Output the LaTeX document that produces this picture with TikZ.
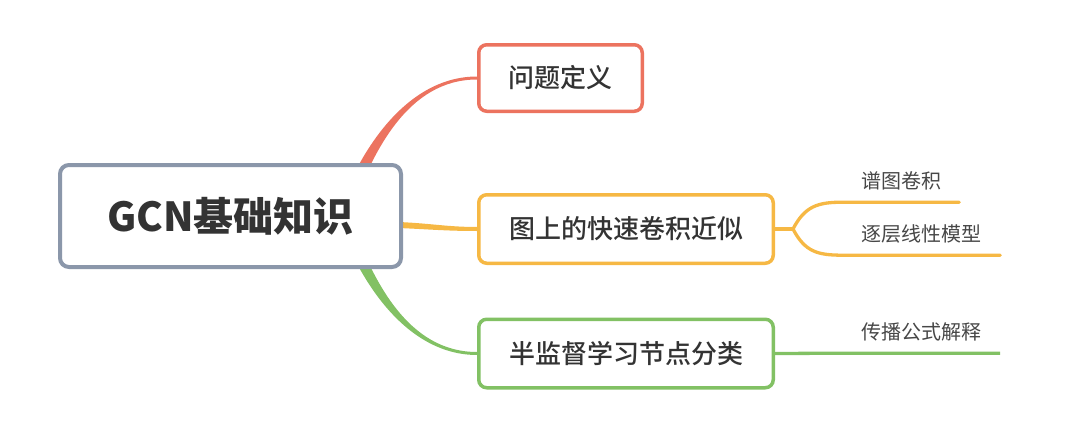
\documentclass[tikz,border=0pt]{standalone}
\usepackage{fontspec}
\newfontfamily\cjk{Noto Sans CJK SC}
\newfontfamily\cjkmed{Noto Sans CJK SC Medium}
\usetikzlibrary{calc,backgrounds}

\definecolor{rootgray}{HTML}{8B97AA}
\definecolor{topicred}{HTML}{EC735F}
\definecolor{topicorange}{HTML}{F6B844}
\definecolor{topicgreen}{HTML}{82C164}
\definecolor{inkdark}{HTML}{333333}

\tikzset{
  rootbox/.style={draw=rootgray, line width=4pt, rounded corners=9pt, fill=white,
    minimum width=341pt, minimum height=102pt, text=inkdark,
    font=\cjk\bfseries\fontsize{40}{40}\selectfont},
  topicbox/.style={draw=#1, line width=3.5pt, rounded corners=8pt, fill=white,
    minimum width=294.5pt, minimum height=68.5pt, text=inkdark,
    font=\cjkmed\fontsize{26}{26}\selectfont},
  leaf/.style={inner xsep=0pt, inner ysep=11pt, text height=17pt, text depth=3pt,
    text=inkdark!90, font=\cjk\fontsize{20}{20}\selectfont},
}

\begin{document}
\begin{tikzpicture}[x=1pt,y=-1pt]
    \useasboundingbox (0,0) rectangle (1080,447);

    \node[rootbox] (root) at (230.5,216) {GCN基础知识};
    \node[topicbox=topicred, minimum width=163.5pt, minimum height=66.5pt] (defn) at (560.5,78) {问题定义};
    \node[topicbox=topicorange] (conv) at (626,229) {图上的快速卷积近似};
    \node[topicbox=topicgreen] (semi) at (626,353.5) {半监督学习节点分类};

    \node[leaf, minimum width=116pt] (spec) at (901,181) {谱图卷积};
    \node[leaf, minimum width=157pt] (layer) at (921.5,234) {逐层线性模型};
    \node[leaf, minimum width=157pt] (prop) at (921.5,332) {传播公式解释};

    \coordinate (hub) at (343,216);
    \coordinate (stub) at ($(root.east)+(-4,9)$);

    \begin{scope}[on background layer]
        % tapered branches out of the root
        \fill[topicred] ($(hub)+(-6.5,0)$) .. controls ($(hub)+(16.5,-68)$) and ($(defn.west)+(-69,-1.5)$) .. ($(defn.west)+(0,-1.5)$)
            -- ($(defn.west)+(0,1.5)$) .. controls ($(defn.west)+(-69,1.5)$) and ($(hub)+(29.5,-65)$) .. ($(hub)+(6.5,0)$) -- cycle;
        \fill[topicorange] ($(stub)+(0,-3)$) .. controls ($(stub)+(33,-1.5)$) and ($(conv.west)+(-29,-2)$) .. ($(conv.west)+(0,-2)$)
            -- ($(conv.west)+(0,2)$) .. controls ($(conv.west)+(-29,2)$) and ($(stub)+(33,4.5)$) .. ($(stub)+(0,3)$) -- cycle;
        \fill[topicgreen] ($(hub)+(-6.5,0)$) .. controls ($(hub)+(16.5,68)$) and ($(semi.west)+(-69,1.5)$) .. ($(semi.west)+(0,1.5)$)
            -- ($(semi.west)+(0,-1.5)$) .. controls ($(semi.west)+(-69,-1.5)$) and ($(hub)+(29.5,65)$) .. ($(hub)+(6.5,0)$) -- cycle;

        % sub-topics
        \draw[topicorange, line width=3.3pt] (conv.east) -- ++(18,0) coordinate (split);
        \draw[topicorange, line width=3.3pt, line cap=round] (split) .. controls +(12,-23) and +(-25,0) .. (spec.south west) -- (spec.south east);
        \draw[topicorange, line width=3.3pt, line cap=round] (split) .. controls +(12,23) and +(-25,0) .. (layer.south west) -- (layer.south east);
        \draw[topicgreen, line width=3.3pt] (semi.east) -- (prop.south west) -- (prop.south east);
    \end{scope}
\end{tikzpicture}
\end{document}
